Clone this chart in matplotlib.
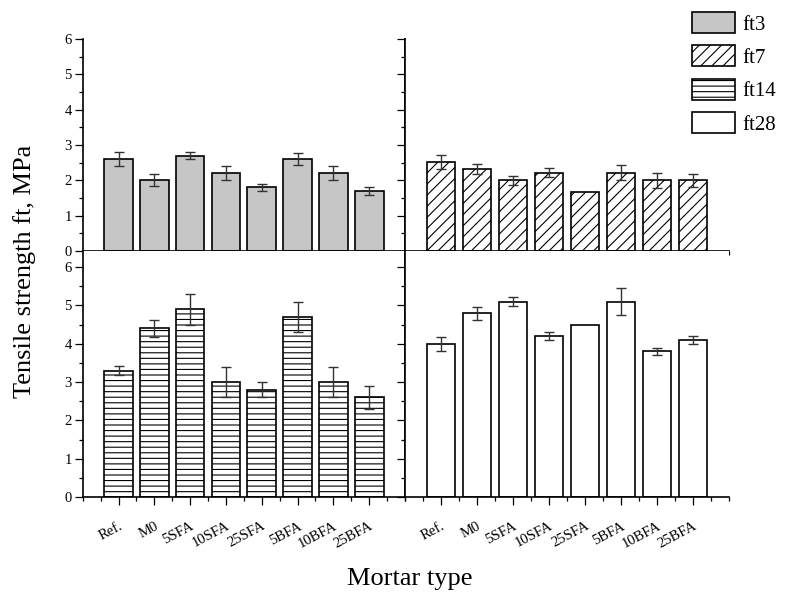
import numpy as np
import matplotlib
matplotlib.use("Agg")
import matplotlib.pyplot as plt
from matplotlib.patches import Patch
from matplotlib.ticker import MultipleLocator

plt.rcParams['font.family'] = ['Liberation Serif', 'DejaVu Serif']
plt.rcParams['hatch.linewidth'] = 0.8

"""Data read from the reference chart."""
mortars = ['Ref.', 'M0', '5SFA', '10SFA', '25SFA', '5BFA', '10BFA', '25BFA']
ft3 = [2.6, 2.0, 2.7, 2.2, 1.8, 2.6, 2.2, 1.7]
ft3_err = [0.2, 0.17, 0.1, 0.2, 0.1, 0.17, 0.2, 0.12]
ft7 = [2.53, 2.32, 2.0, 2.22, 1.68, 2.22, 2.0, 2.0]
ft7_err = [0.2, 0.14, 0.13, 0.12, 0.0, 0.2, 0.22, 0.18]
ft14 = [3.3, 4.4, 4.9, 3.0, 2.8, 4.7, 3.0, 2.6]
ft14_err = [0.13, 0.23, 0.4, 0.4, 0.2, 0.4, 0.4, 0.3]
ft28 = [4.0, 4.8, 5.1, 4.2, 4.5, 5.1, 3.8, 4.1]
ft28_err = [0.18, 0.17, 0.12, 0.1, 0.0, 0.35, 0.1, 0.1]
series_names = ['ft3', 'ft7', 'ft14', 'ft28']

W, H = 789, 599
fig = plt.figure(figsize=(W / 100, H / 100), dpi=100)

def px_axes(x0, x1, y0, y1):
    """Axes from pixel box (y from top)."""
    return fig.add_axes([x0 / W, 1 - y1 / H, (x1 - x0) / W, (y1 - y0) / H])

ax_tl = px_axes(82.7, 405, 39, 251)
ax_tr = px_axes(405, 729, 39, 251)
ax_bl = px_axes(82.7, 405, 251, 497)
ax_br = px_axes(405, 729, 251, 497)

styles = [
    (ax_tl, ft3, ft3_err, dict(color='#c6c6c6', hatch=None)),
    (ax_tr, ft7, ft7_err, dict(color='white', hatch='///')),
    (ax_bl, ft14, ft14_err, dict(color='white', hatch='---')),
    (ax_br, ft28, ft28_err, dict(color='white', hatch=None)),
]

x = np.arange(1, len(mortars) + 1)
for ax, vals, errs, st in styles:
    ax.bar(x, vals, width=0.8, color=st['color'], hatch=st['hatch'],
           edgecolor='black', linewidth=1.2, zorder=2)
    e = np.array(errs)
    mask = e > 0
    ax.errorbar(x[mask], np.array(vals)[mask], yerr=e[mask], fmt='none',
                ecolor='#333333', elinewidth=1.0, capsize=3.3, capthick=1.0, zorder=3)
    ax.set_xlim(0, 9)
    ax.spines['top'].set_visible(False)
    for s in ax.spines.values():
        s.set_linewidth(1.2)
    ax.xaxis.set_major_locator(MultipleLocator(1))
    ax.xaxis.set_minor_locator(MultipleLocator(0.5))
    ax.yaxis.set_major_locator(MultipleLocator(1))
    ax.yaxis.set_minor_locator(MultipleLocator(0.5))
    ax.tick_params(which='major', direction='out', length=5.8, width=0.9, labelsize=10.5)
    ax.tick_params(which='minor', direction='out', length=3.0, width=0.9)
    ax.tick_params(axis='x', which='major', top=False)

for ax in (ax_tl, ax_tr):
    ax.set_ylim(0, 6)
    ax.set_xticks(x)
    ax.set_xticklabels([])
for ax in (ax_bl, ax_br):
    ax.set_ylim(0, 6.418)
    ax.set_xticks(x)
    ax.set_xticklabels(mortars, rotation=28, ha='right', va='top',
                       rotation_mode='anchor', fontsize=10.5)
    ax.tick_params(axis='x', which='major', pad=10.5)

for ax in (ax_tr, ax_br):
    ax.spines['right'].set_visible(False)
    ax.tick_params(axis='y', which='both', labelleft=False)
for ax in (ax_tl, ax_bl):
    ax.tick_params(axis='y', which='major', pad=2)

fig.text(25 / W, 1 - 271 / H, 'Tensile strength ft, MPa', rotation=90,
         ha='center', va='center', fontsize=19)
fig.text(410 / W, 1 - 585 / H, 'Mortar type', ha='center', va='baseline', fontsize=19)

handles = [
    Patch(facecolor='#c6c6c6', edgecolor='black', linewidth=1.2),
    Patch(facecolor='white', edgecolor='black', linewidth=1.2, hatch='///'),
    Patch(facecolor='white', edgecolor='black', linewidth=1.2, hatch='---'),
    Patch(facecolor='white', edgecolor='black', linewidth=1.2),
]
fig.legend(handles, series_names, loc='upper left',
           bbox_to_anchor=(691.7 / W, 1 - 12 / H), frameon=False, fontsize=15,
           handlelength=2.06, handleheight=1.17, labelspacing=0.52,
           handletextpad=0.38, borderpad=0, borderaxespad=0)

fig.savefig('out.png', dpi=100)
